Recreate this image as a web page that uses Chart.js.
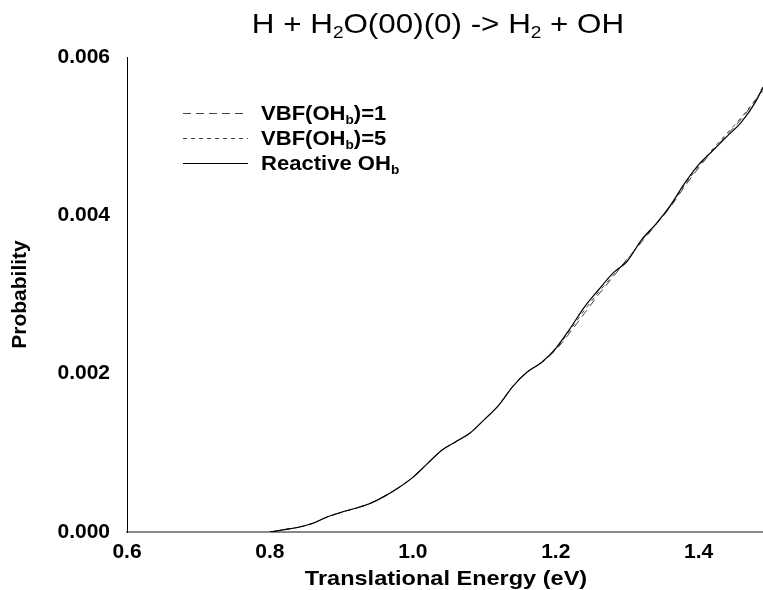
<!DOCTYPE html>
<html>
<head>
<meta charset="utf-8">
<script src="https://cdn.jsdelivr.net/npm/chart.js@4/dist/chart.umd.min.js"></script>
<style>
  body { margin: 0; background: #fff; }
  #wrap { width: 763px; height: 590px; position: relative; }
</style>
</head>
<body>
<div id="wrap"><canvas id="chart"></canvas></div>
<script>
// translational energy (eV)
const energy = [0.80, 0.82, 0.84, 0.86, 0.88, 0.90, 0.92, 0.94, 0.96, 0.98,
  1.00, 1.02, 1.04, 1.06, 1.08, 1.10, 1.12, 1.14, 1.16, 1.18,
  1.20, 1.22, 1.24, 1.26, 1.28, 1.30, 1.32, 1.34, 1.36, 1.38,
  1.40, 1.42, 1.44, 1.46, 1.48, 1.49];

// probabilities
const reactive = [0.00000, 0.00003, 0.00006, 0.00011, 0.00019, 0.00025, 0.00030, 0.00036, 0.00045, 0.00056,
  0.00069, 0.00086, 0.00103, 0.00114, 0.00125, 0.00142, 0.00160, 0.00184, 0.00202, 0.00214,
  0.00232, 0.00257, 0.00284, 0.00306, 0.00327, 0.00342, 0.00369, 0.00389, 0.00412, 0.00440,
  0.00464, 0.00482, 0.00500, 0.00518, 0.00544, 0.00562];
const vbf1 = [0.00000, 0.00003, 0.00006, 0.00011, 0.00019, 0.00025, 0.00030, 0.00036, 0.00045, 0.00056,
  0.00069, 0.00086, 0.00103, 0.00114, 0.00125, 0.00142, 0.00160, 0.00184, 0.00202, 0.00214,
  0.00230, 0.00252, 0.00276, 0.00300, 0.00322, 0.00345, 0.00366, 0.00388, 0.00410, 0.00436,
  0.00460, 0.00482, 0.00502, 0.00522, 0.00546, 0.00558];
const vbf5 = [0.00000, 0.00003, 0.00006, 0.00011, 0.00019, 0.00025, 0.00030, 0.00036, 0.00045, 0.00056,
  0.00069, 0.00086, 0.00103, 0.00114, 0.00125, 0.00142, 0.00160, 0.00184, 0.00202, 0.00214,
  0.00231, 0.00255, 0.00280, 0.00303, 0.00324, 0.00344, 0.00368, 0.00389, 0.00411, 0.00438,
  0.00462, 0.00484, 0.00504, 0.00524, 0.00547, 0.00560];

const xTicks = [0.6, 0.8, 1.0, 1.2, 1.4];
const yTicks = [0.000, 0.002, 0.004, 0.006];

const fontFam = '"Liberation Sans", Arial, sans-serif';

function pts(ys) {
  return energy.map((e, i) => ({ x: e, y: ys[i] }));
}

// text with subscripts, parts = [[text, isSub], ...], sx = horizontal stretch
function drawRich(c, parts, x, y, size, bold, align, sx) {
  const w = bold ? 'bold ' : '';
  const subSize = Math.round(size * 0.62);
  let total = 0;
  parts.forEach(p => {
    c.font = w + (p[1] ? subSize : size) + 'px ' + fontFam;
    total += c.measureText(p[0]).width;
  });
  c.save();
  c.translate(x, y);
  c.scale(sx, 1);
  let cx = align === 'center' ? -total / 2 : 0;
  c.textAlign = 'left';
  c.textBaseline = 'alphabetic';
  parts.forEach(p => {
    c.font = w + (p[1] ? subSize : size) + 'px ' + fontFam;
    c.fillText(p[0], cx, p[1] ? size * 0.18 : 0);
    cx += c.measureText(p[0]).width;
  });
  c.restore();
}

const titleParts = [['H + H', 0], ['2', 1], ['O(00)(0) -> H', 0], ['2', 1], [' + OH', 0]];
const xTitleParts = [['Translational Energy (eV)', 0]];
const legendRows = [
  { parts: [['VBF(OH', 0], ['b', 1], [')=1', 0]], dash: [8, 5], color: '#444' },
  { parts: [['VBF(OH', 0], ['b', 1], [')=5', 0]], dash: [4, 4], color: '#444' },
  { parts: [['Reactive OH', 0], ['b', 1]], dash: [], color: '#000' }
];

const decorPlugin = {
  id: 'decor',
  afterDraw(chart) {
    const c = chart.ctx;
    const a = chart.chartArea;
    c.save();
    c.fillStyle = '#000';
    drawRich(c, titleParts, 438, 33, 28, false, 'center', 1.12);
    drawRich(c, xTitleParts, 446, 585, 21, true, 'center', 1.12);
    legendRows.forEach((r, i) => {
      const y = 113 + i * 25;
      c.beginPath();
      c.setLineDash(r.dash);
      c.strokeStyle = r.color;
      c.lineWidth = 1;
      c.moveTo(183, y + 0.5);
      c.lineTo(248, y + 0.5);
      c.stroke();
      c.setLineDash([]);
      drawRich(c, r.parts, 261, y + 7, 21, true, 'left', 1.05);
    });
    c.restore();
  }
};

new Chart(document.getElementById('chart'), {
  type: 'line',
  data: {
    datasets: [
      {
        label: 'Reactive OHb',
        data: pts(reactive),
        borderColor: '#000',
        borderWidth: 1.2,
        order: 0
      },
      {
        label: 'VBF(OHb)=1',
        data: pts(vbf1),
        borderColor: '#444',
        borderWidth: 1,
        borderDash: [8, 5],
        order: 1
      },
      {
        label: 'VBF(OHb)=5',
        data: pts(vbf5),
        borderColor: '#444',
        borderWidth: 1,
        borderDash: [4, 4],
        order: 2
      }
    ]
  },
  options: {
    responsive: true,
    maintainAspectRatio: false,
    animation: false,
    elements: {
      point: { radius: 0 },
      line: { cubicInterpolationMode: 'monotone' }
    },
    layout: { padding: { top: 57, left: 8, right: 0, bottom: 0 } },
    plugins: {
      legend: { display: false },
      title: { display: false },
      tooltip: { enabled: false }
    },
    scales: {
      x: {
        type: 'linear',
        min: 0.6,
        max: 1.49,
        afterBuildTicks: s => { s.ticks = xTicks.map(v => ({ value: v })); },
        afterFit: s => { s.height = 58; },
        grid: { display: false, drawTicks: false },
        border: { display: true, color: '#888', width: 2 },
        ticks: {
          color: '#000',
          padding: 8,
          maxRotation: 0,
          font: { family: fontFam, size: 21, weight: 'bold' },
          callback: v => v.toFixed(1)
        },
        title: { display: false }
      },
      y: {
        min: 0,
        max: 0.006,
        afterBuildTicks: s => { s.ticks = yTicks.map(v => ({ value: v })); },
        afterFit: s => { s.width = 119; },
        grid: { display: false, drawTicks: false },
        border: { display: true, color: '#000', width: 1 },
        ticks: {
          color: '#000',
          padding: 17,
          font: { family: fontFam, size: 21, weight: 'bold' },
          callback: v => v.toFixed(3)
        },
        title: {
          display: true,
          text: 'Probability',
          color: '#000',
          padding: 0,
          font: { family: fontFam, size: 21, weight: 'bold' }
        }
      }
    }
  },
  plugins: [decorPlugin]
});
</script>
</body>
</html>
